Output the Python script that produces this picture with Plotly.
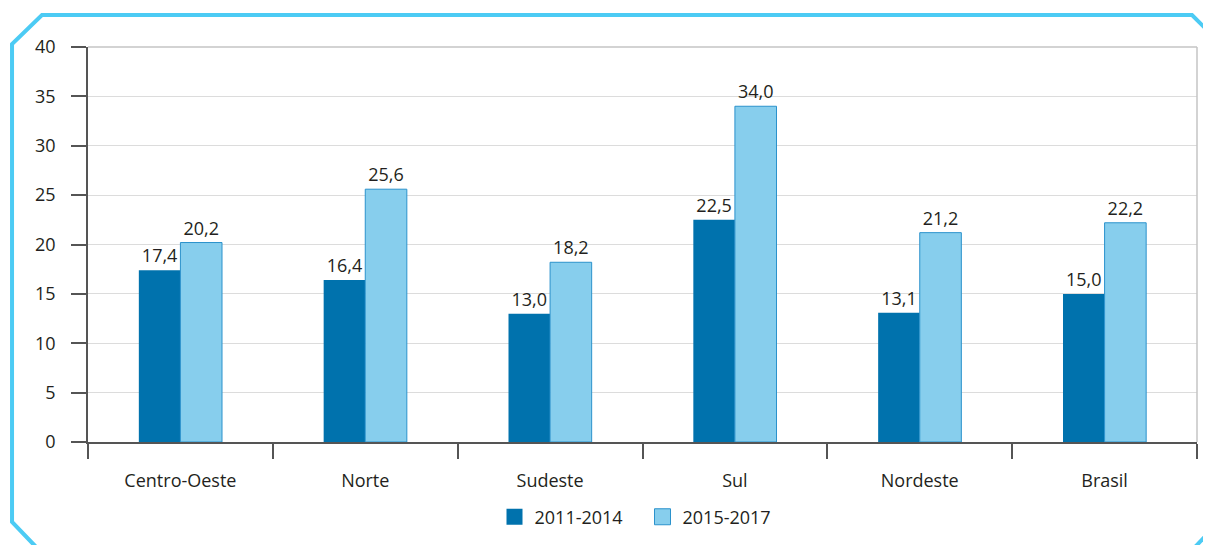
import plotly.graph_objects as go

regions = ["Centro-Oeste", "Norte", "Sudeste", "Sul", "Nordeste", "Brasil"]
period_a = [17.4, 16.4, 13.0, 22.5, 13.1, 15.0]
period_b = [20.2, 25.6, 18.2, 34.0, 21.2, 22.2]
series_names = ["2011-2014", "2015-2017"]
y_ticks = [0, 5, 10, 15, 20, 25, 30, 35, 40]

# the page body adds an 8px margin, so figure pixels = page pixels - 8
OFF = 8
W, H = 1211, 545
L, R, T, B = 88 - OFF, 22, 47 - OFF, 111
PW, PH = W - L - R, H - T - B

DARK, LIGHT, LIGHT_EDGE = "#0072ad", "#87ceed", "#2b92cc"


def px(x, y):
    # page pixel -> paper coordinates, for the decorative frame
    return (x - OFF - L) / PW, (H - B - (y - OFF)) / PH


def path(points):
    return "M " + " L ".join(f"{a:.4f},{b:.4f}" for a, b in (px(x, y) for x, y in points))


font = "Open Sans, Noto Sans, sans-serif"
txt_color = "#231f20"

fig = go.Figure()
fig.add_trace(go.Bar(
    x=regions, y=period_a, name=series_names[0], showlegend=False,
    marker=dict(color=DARK, line=dict(width=0)),
    texttemplate="%{y:.1f}", textposition="outside", cliponaxis=False,
    textfont=dict(size=18, color=txt_color),
))
fig.add_trace(go.Bar(
    x=regions, y=period_b, name=series_names[1], showlegend=False,
    marker=dict(color=LIGHT, line=dict(color=LIGHT_EDGE, width=1)),
    texttemplate="%{y:.1f}", textposition="outside", cliponaxis=False,
    textfont=dict(size=18, color=txt_color),
))
# legend-only entries with bigger square swatches
fig.add_trace(go.Scatter(x=[None], y=[None], mode="markers", name=series_names[0],
                         marker=dict(symbol="square", size=16, color=DARK)))
fig.add_trace(go.Scatter(x=[None], y=[None], mode="markers", name=series_names[1],
                         marker=dict(symbol="square", size=16, color=LIGHT,
                                     line=dict(color=LIGHT_EDGE, width=1))))

shapes = [
    # plot frame: right and top edges
    dict(type="line", xref="paper", yref="paper", x0=1, x1=1, y0=0, y1=1,
         line=dict(color="#c4c4c4", width=1.5)),
    dict(type="line", xref="paper", yref="paper", x0=0, x1=1, y0=1, y1=1,
         line=dict(color="#c4c4c4", width=1.5)),
    # outer chamfered border
    dict(type="path", xref="paper", yref="paper",
         path=path([(38, 549), (12, 522), (12, 44), (42, 15), (1192, 15), (1215, 38)]),
         line=dict(color="#4ccbf4", width=4)),
    dict(type="path", xref="paper", yref="paper",
         path=path([(1215, 526), (1194, 548)]),
         line=dict(color="#4ccbf4", width=4)),
]

fig.update_layout(
    width=W, height=H,
    margin=dict(l=L, r=R, t=T, b=B),
    paper_bgcolor="white", plot_bgcolor="white",
    barmode="group", bargap=0.55, bargroupgap=0,
    separators=",.",
    font=dict(family=font, size=18, color=txt_color),
    showlegend=True,
    legend=dict(orientation="h", x=0.5, xanchor="center", y=-0.19, yanchor="middle",
                font=dict(size=18), itemwidth=30, tracegroupgap=0,
                entrywidth=103, entrywidthmode="pixels"),
    shapes=shapes,
)
fig.update_xaxes(
    type="category", tickson="boundaries", ticks="outside", ticklen=15,
    tickcolor="#555555", tickwidth=1.5, showline=True, linecolor="#555555", linewidth=1.5,
    showgrid=False, ticklabelstandoff=22, tickfont=dict(size=18),
)
fig.update_yaxes(
    range=[0, 40], tickvals=y_ticks, ticks="outside", ticklen=15,
    tickcolor="#555555", tickwidth=1.5, showline=True, linecolor="#555555", linewidth=1.5,
    showgrid=True, gridcolor="#dcdcdc", gridwidth=1.2, zeroline=False,
    ticklabelstandoff=12, tickfont=dict(size=18),
)

fig.write_html("out.html")
